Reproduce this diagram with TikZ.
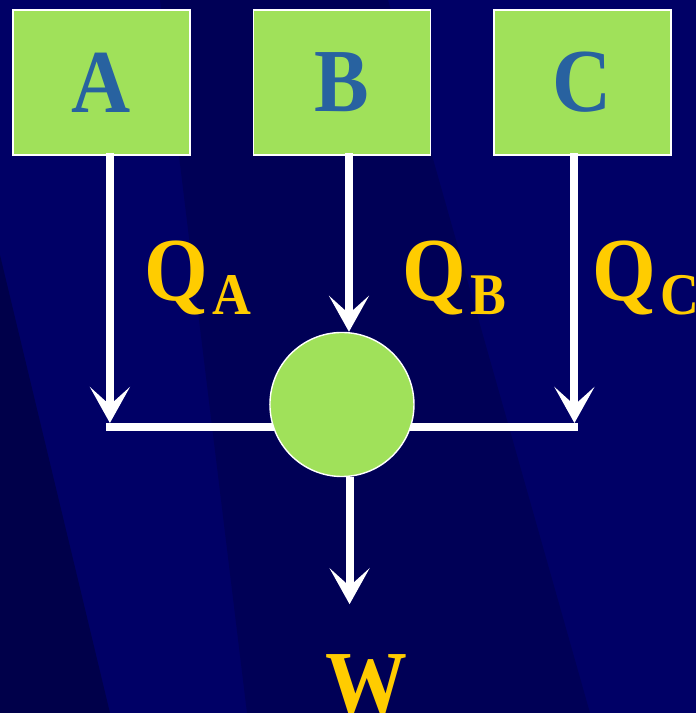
\documentclass[tikz,border=0pt]{standalone}
\usepackage{fontspec}
\setmainfont{Liberation Serif}[FakeStretch=0.91]
\usepackage{xcolor}
\usepackage{tikz}
\usetikzlibrary{arrows.meta,positioning}

\definecolor{navy}{RGB}{0,0,102}
\definecolor{navymid}{RGB}{0,0,86}
\definecolor{navydark}{RGB}{0,0,74}
\definecolor{leafgreen}{RGB}{160,225,90}
\definecolor{letterblue}{RGB}{40,98,160}
\definecolor{flowgold}{RGB}{255,204,0}
\newcommand{\flowlabel}[1]{Q\kern0.12cm\raisebox{-0.37cm}{\fontsize{42}{42}\selectfont #1}}

\begin{document}
\begin{tikzpicture}[
    x=0.025cm, y=-0.025cm,
    node distance=1.55cm,
    src/.style={rectangle, draw=white, fill=leafgreen, line width=1pt, minimum width=4.425cm, minimum height=3.625cm, text=letterblue, font=\fontsize{64}{64}\selectfont\bfseries},
    hub/.style={circle, draw=white, fill=leafgreen, line width=1pt, minimum size=3.6cm, inner sep=0pt},
    lbl/.style={text=flowgold, font=\fontsize{64}{64}\selectfont\bfseries, inner sep=0pt},
    arr/.style={-{Stealth[length=0.9cm, width=1cm, inset=0.45cm]}, line width=0.2cm, draw=white},
    bar/.style={line width=0.2cm, draw=white}
]
    \useasboundingbox (0,0) rectangle (696,713);
    \clip (0,0) rectangle (696,713);
    \fill[navy] (0,0) rectangle (696,713);
    \fill[navymid] (160,0) -- (388,0) -- (590,713) -- (247,713) -- cycle;
    \fill[navydark] (0,255) -- (110,713) -- (0,713) -- cycle;

    \node [src] (A) at (101.5,82.5) {A};
    \node [src, right=of A] (B) {B};
    \node [src, right=of B] (C) {C};

    \coordinate (jl) at (106,427);
    \coordinate (jr) at (578,427);

    \draw [arr] ([xshift=0.21cm, yshift=0.07cm]A.south) -- ([xshift=0.21cm, yshift=0.1cm]A.south |- jl);
    \draw [arr] ([xshift=-0.2cm, yshift=0.07cm]C.south) -- ([xshift=-0.2cm, yshift=0.1cm]C.south |- jr);
    \draw [bar] (jl) -- (jr);

    \node [hub, below=4.4cm of B] (hub) {};
    \path ([xshift=0.19cm]hub.south) ++(0,127) coordinate (wout);

    \draw [arr] ([xshift=0.175cm, yshift=0.07cm]B.south) -- ([xshift=0.175cm]B.south |- hub.north);
    \draw [arr] ([xshift=0.19cm]hub.south) -- (wout);

    \node [lbl, anchor=base west] (qa) at (144,300) {\flowlabel{A}};
    \node [lbl, anchor=base west] (qb) at (402,300) {\flowlabel{B}};
    \node [lbl, anchor=base west] (qc) at (592,300) {\flowlabel{C}};
    \node [lbl, anchor=base] (w) at (366,713) {W};
\end{tikzpicture}
\end{document}
